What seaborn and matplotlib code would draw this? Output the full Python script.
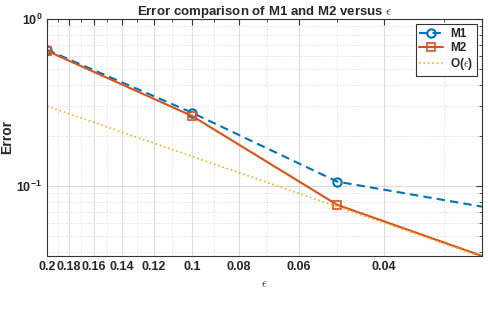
import numpy as np
import pandas as pd
import seaborn as sns
import matplotlib.pyplot as plt
from matplotlib.ticker import FixedLocator, LogLocator, NullFormatter

# values
eps = [0.2, 0.1, 0.05, 0.025]
err_m1 = [0.652, 0.274, 0.106, 0.075]
err_m2 = [0.643, 0.262, 0.077, 0.038]
err_ref = [0.30, 0.15, 0.075, 0.0375]
xtick_vals = [0.2, 0.18, 0.16, 0.14, 0.12, 0.1, 0.08, 0.06, 0.04]
xtick_labels = ["0.2", "0.18", "0.16", "0.14", "0.12", "0.1", "0.08", "0.06", "0.04"]

sns.set_style("white")
plt.rcParams['font.family'] = ['Liberation Sans', 'DejaVu Sans']
plt.rcParams['mathtext.fontset'] = 'cm'

fig = plt.figure(figsize=(4.89, 3.21), dpi=100)
ax = fig.add_axes([0.096, 0.2025, 0.89, 0.739])

# markers only on the first three points (as in the reference)
sns.lineplot(x=eps, y=err_m1, ax=ax, sort=False, color="#0072BD", linewidth=1.5,
             marker="o", markersize=6, markerfacecolor="none", markeredgewidth=1.5,
             markeredgecolor="#0072BD", markevery=[0, 1, 2], dashes=(4, 2.5), label="M1")
sns.lineplot(x=eps, y=err_m2, ax=ax, sort=False, color="#D95319", linestyle="-", linewidth=1.5,
             marker="s", markersize=5.5, markerfacecolor="none", markeredgewidth=1.2,
             markeredgecolor="#D95319", markevery=[0, 1, 2], label="M2")
sns.lineplot(x=eps, y=err_ref, ax=ax, sort=False, color="#EDB120", linestyle=":", linewidth=1.2,
             label=r"O($\epsilon$)")

ax.set_xscale("log")
ax.set_yscale("log")
ax.set_xlim(0.2, 0.025)
ax.set_ylim(0.038, 1.0)

ax.xaxis.set_major_locator(FixedLocator(xtick_vals))
ax.set_xticklabels(xtick_labels)
ax.xaxis.set_minor_locator(FixedLocator([0.19, 0.17, 0.15, 0.13, 0.11, 0.09, 0.07, 0.05, 0.03]))
ax.xaxis.set_minor_formatter(NullFormatter())
ax.yaxis.set_major_locator(LogLocator(base=10))
ax.yaxis.set_minor_locator(LogLocator(base=10, subs=np.arange(2, 10)))
ax.yaxis.set_minor_formatter(NullFormatter())

ax.grid(True, which="major", color="#dcdcdc", linewidth=0.8)
ax.grid(True, which="minor", color="#e6e6e6", linestyle="--", linewidth=0.6)
ax.tick_params(which="both", direction="in", top=True, right=True, color="#333333")
ax.tick_params(which="major", length=4, labelsize=9)
ax.tick_params(which="minor", length=2)
for lbl in ax.get_xticklabels() + ax.get_yticklabels():
    lbl.set_fontweight("bold")
for s in ax.spines.values():
    s.set_color("#333333")
    s.set_linewidth(0.8)

ax.set_xlabel(r"$\epsilon$", fontsize=9)
ax.set_ylabel("Error", fontsize=10, fontweight="bold")
ax.yaxis.set_label_coords(-0.075, 0.5)
ax.set_title(r"Error comparison of M1 and M2 versus $\epsilon$", fontsize=9.5, fontweight="bold", pad=3)

leg = ax.legend(loc="upper right", fontsize=8.5, frameon=True, fancybox=False,
                edgecolor="black", handlelength=2.0, borderpad=0.3, labelspacing=0.2,
                handletextpad=0.6, borderaxespad=0.45)
leg.get_frame().set_linewidth(0.8)
for t in leg.get_texts():
    t.set_fontweight("bold")

fig.savefig("out.png", dpi=100)
